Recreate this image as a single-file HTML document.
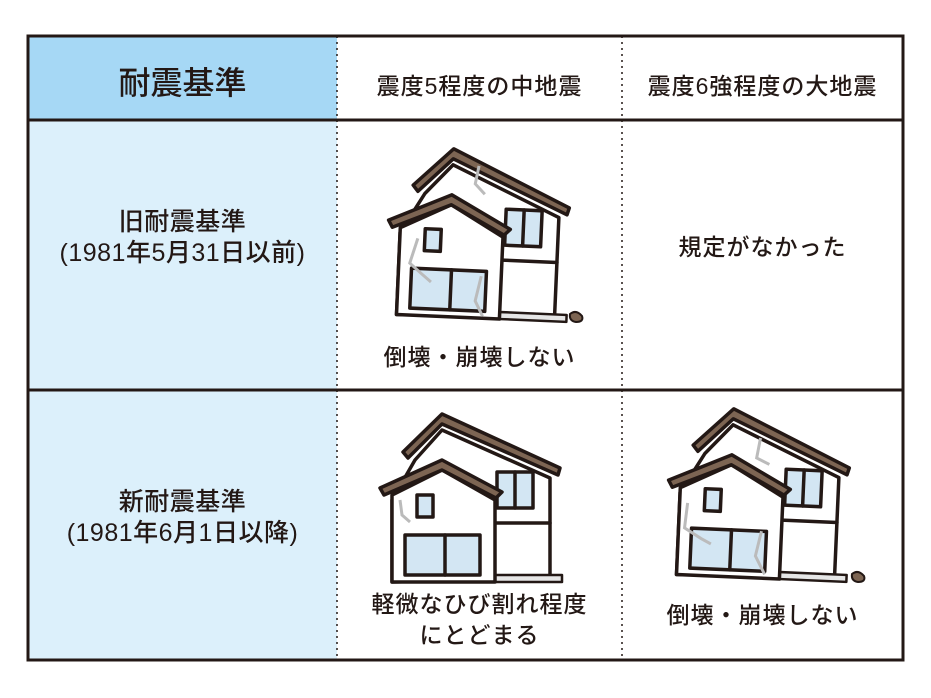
<!DOCTYPE html>
<html><head><meta charset="utf-8"><style>
body{margin:0;background:#fff;width:931px;height:698px;overflow:hidden;font-family:"Liberation Sans","Noto Sans CJK JP",sans-serif;color:#231815}
.t{position:absolute;text-align:center;white-space:nowrap;font-weight:500}
</style></head><body>
<svg width="931" height="698" style="position:absolute;left:0;top:0">
<defs>
<g id="h" stroke="#231815" stroke-width="3.5" stroke-linejoin="round" stroke-linecap="round">
<polygon points="45,60 72,30 180,78 180,178 22,182 22,100" fill="#fff"/>
<rect x="125" y="175" width="67" height="7" fill="#e6e6e6" stroke-width="2.5"/>
<rect x="127" y="72" width="36" height="36" fill="#d3e6f3"/><line x1="145" y1="72" x2="145" y2="108"/>
<line x1="125" y1="123" x2="180" y2="123"/>
<polygon points="22,95 72,70 125,100 125,182 22,182" fill="#fff"/>
<rect x="47" y="95" width="16" height="22" fill="#d3e6f3"/>
<rect x="35" y="135" width="75" height="40" fill="#d3e6f3"/><line x1="75" y1="135" x2="75" y2="175"/>
<polygon points="33,52 72,14 190,68 188,75 72,24 38,58" fill="#7d6553"/>
<polygon points="10,88 72,60 132,92 126,98 72,70 14,95" fill="#7d6553"/>
</g>
</defs>
<rect x="28" y="36" width="309" height="84" fill="#a6d8f5"/>
<rect x="28" y="120" width="309" height="540" fill="#dcf0fb"/>
<g transform="translate(378,136) rotate(2.5 100 100)"><use href="#h"/>
<path d="M40,105 L33,130 L45,140 L55,148 M105,140 L100,165 L108,180 M98,30 L95,48 L105,58" stroke="#bbb" stroke-width="3" fill="none"/></g>
<path d="M570,314 Q576,309 582,316 Q584,322 576,322 Q569,321 570,314 Z" fill="#7d6553" stroke="#231815" stroke-width="2"/>
<g transform="translate(370,400)"><use href="#h"/><path d="M30,100 L32,115 L40,122" stroke="#bbb" stroke-width="3" fill="none"/></g>
<g transform="translate(658,396) rotate(2.5 100 100)"><use href="#h"/>
<path d="M30,110 L28,135 L45,145 L55,150 M105,135 L100,160 L110,178 M100,42 L97,62 L110,68" stroke="#bbb" stroke-width="3" fill="none"/></g>
<path d="M852,574 Q858,569 864,576 Q866,582 858,582 Q851,581 852,574 Z" fill="#7d6553" stroke="#231815" stroke-width="2"/>
<rect x="28" y="36" width="875" height="624" fill="none" stroke="#231815" stroke-width="3"/>
<line x1="28" y1="120" x2="903" y2="120" stroke="#231815" stroke-width="3"/>
<line x1="28" y1="390" x2="903" y2="390" stroke="#231815" stroke-width="3"/>
<line x1="337" y1="36" x2="337" y2="660" stroke="#231815" stroke-width="1.5" stroke-dasharray="2,4"/>
<line x1="622" y1="36" x2="622" y2="660" stroke="#231815" stroke-width="1.5" stroke-dasharray="2,4"/>
</svg>
<div class="t" style="left:28px;width:309px;top:58px;font-size:32px">耐震基準</div>
<div class="t" style="left:337px;width:285px;top:67px;font-size:23px;letter-spacing:1px">震度5程度の中地震</div>
<div class="t" style="left:622px;width:281px;top:67px;font-size:23px;letter-spacing:1px">震度6強程度の大地震</div>
<div class="t" style="left:28px;width:309px;top:207px;font-size:25px;line-height:31px;letter-spacing:0.5px">旧耐震基準<br>(1981年5月31日以前)</div>
<div class="t" style="left:28px;width:309px;top:487px;font-size:25px;line-height:31px;letter-spacing:0.5px">新耐震基準<br>(1981年6月1日以降)</div>
<div class="t" style="left:622px;width:281px;top:228px;font-size:23px;letter-spacing:1px">規定がなかった</div>
<div class="t" style="left:337px;width:285px;top:338px;font-size:23px;letter-spacing:1px">倒壊・崩壊しない</div>
<div class="t" style="left:337px;width:285px;top:589px;font-size:23px;line-height:31px;letter-spacing:1px">軽微なひび割れ程度<br>にとどまる</div>
<div class="t" style="left:622px;width:281px;top:596px;font-size:23px;letter-spacing:1px">倒壊・崩壊しない</div>
</body></html>
